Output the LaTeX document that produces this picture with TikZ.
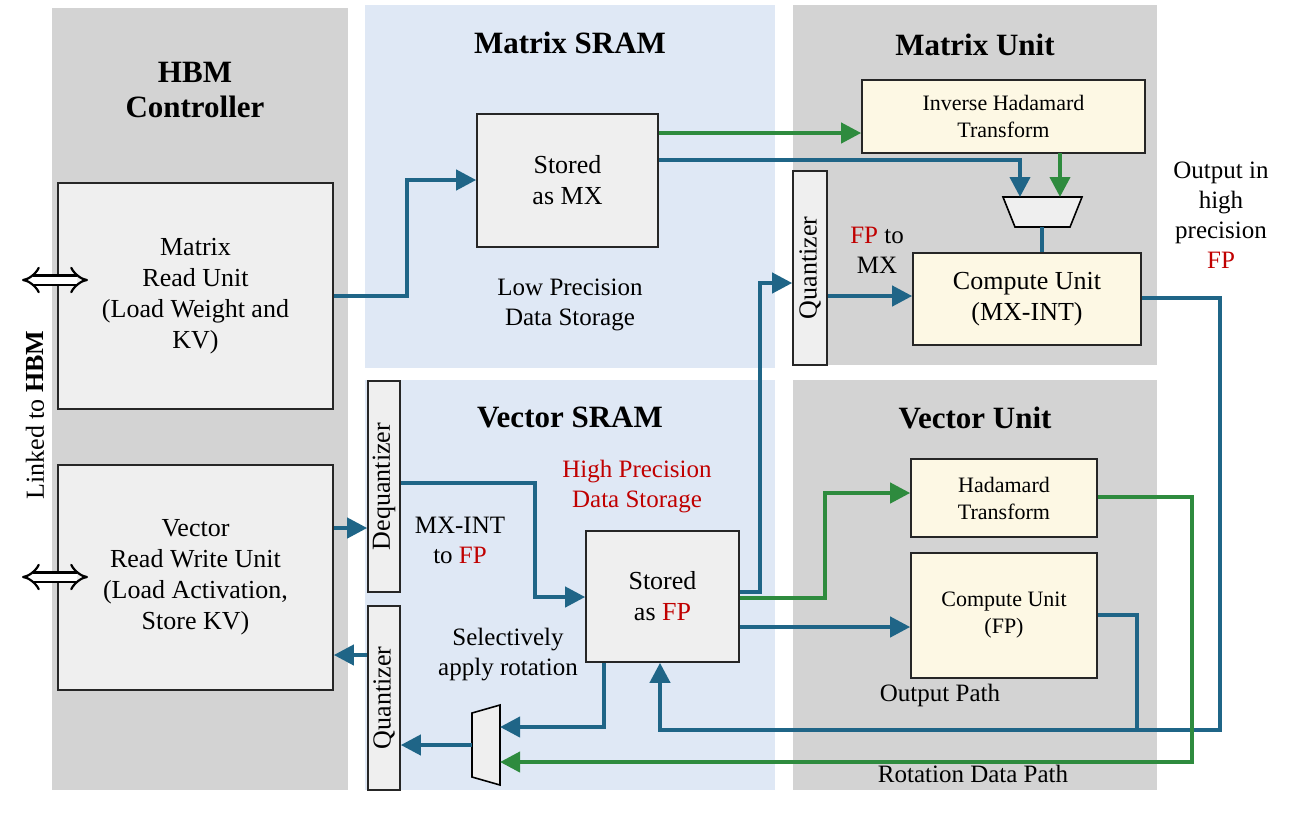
\documentclass[tikz,border=0pt]{standalone}
\usepackage{fontspec}
\setmainfont{Liberation Serif}
\usetikzlibrary{arrows.meta}
\definecolor{gbg}{HTML}{D3D3D3}
\definecolor{bbg}{HTML}{DFE8F5}
\definecolor{boxg}{HTML}{EFEFEF}
\definecolor{cream}{HTML}{FDF8E4}
\definecolor{bl}{HTML}{1F6587}
\definecolor{gr}{HTML}{2E8B3E}
\definecolor{rd}{HTML}{C00000}
\tikzset{
 box/.style={draw=black!85,line width=1.6pt,fill=boxg,align=center,font=\fontsize{26}{31}\selectfont},
 ybox/.style={box,fill=cream},
 title/.style={font=\fontsize{31}{35}\selectfont\bfseries,align=center},
 lbl/.style={font=\fontsize{25}{30}\selectfont,align=center},
 ba/.style={draw=bl,line width=4pt,-{Triangle[length=20pt,width=20pt]}},
 bn/.style={draw=bl,line width=4pt},
 ga/.style={draw=gr,line width=4pt,-{Triangle[length=20pt,width=20pt]}},
}
\begin{document}
\begin{tikzpicture}[x=1pt,y=-1pt]
\useasboundingbox (0,0) rectangle (1315,815);
\fill[gbg] (52,8) rectangle (348,790);
\fill[bbg] (365,5) rectangle (775,368);
\fill[gbg] (793,5) rectangle (1157,365);
\fill[bbg] (365,380) rectangle (775,790);
\fill[gbg] (793,380) rectangle (1157,790);

\node[title] (t1) at (195,90) {HBM\\Controller};
\node[title] (t2) at (570,43) {Matrix SRAM};
\node[title] (t3) at (975,45) {Matrix Unit};
\node[title] (t4) at (570,417) {Vector SRAM};
\node[title] (t5) at (975,418) {Vector Unit};

\node[box,minimum width=275,minimum height=226] (mru) at (195.5,296) {Matrix\\Read Unit\\(Load Weight and\\KV)};
\node[box,minimum width=275,minimum height=225] (vru) at (195.5,577.5) {Vector\\Read Write Unit\\(Load Activation,\\Store KV)};
\node[box,minimum width=181,minimum height=133] (smx) at (567.5,180.5) {Stored\\as MX};
\node[ybox,minimum width=283,minimum height=73,font=\fontsize{22}{27}\selectfont] (iht) at (1003.5,116.5) {Inverse Hadamard\\Transform};
\node[ybox,minimum width=228,minimum height=92] (cmx) at (1027,299) {Compute Unit\\(MX-INT)};
\node[box,minimum width=194,minimum height=34,rotate=90] (qm) at (810,268) {Quantizer};
\node[box,minimum width=211,minimum height=32,rotate=90] (dq) at (384,486.5) {Dequantizer};
\node[box,minimum width=184,minimum height=32,rotate=90] (qv) at (384,698) {Quantizer};
\node[box,minimum width=153,minimum height=131] (sfp) at (662.5,596.5) {Stored\\as \textcolor{rd}{FP}};
\node[ybox,minimum width=186,minimum height=78,font=\fontsize{22}{27}\selectfont] (ht) at (1004,498) {Hadamard\\Transform};
\node[ybox,minimum width=186,minimum height=125,font=\fontsize{22}{27}\selectfont] (cfp) at (1004,615.5) {Compute Unit\\(FP)};

\draw[line width=1.6pt,fill=boxg] (1003,197) -- (1082,197) -- (1070,227) -- (1015,227) -- cycle;
\coordinate (mm) at (1042,227);
\draw[line width=1.6pt,fill=boxg] (472,713) -- (500,705) -- (500,785) -- (472,777) -- cycle;
\coordinate (vm) at (472,745);

\node[lbl] (l1) at (570,305) {Low Precision\\Data Storage};
\node[lbl] (l2) at (877,250) {\textcolor{rd}{FP} to\\MX};
\node[lbl] (l3) at (1221,215) {Output in\\high\\precision\\\textcolor{rd}{FP}};
\node[lbl,text=rd] (l4) at (637,487) {High Precision\\Data Storage};
\node[lbl] (l5) at (460,540) {MX-INT\\to \textcolor{rd}{FP}};
\node[lbl] (l6) at (508,655) {Selectively\\apply rotation};
\node[lbl] (l7) at (940,695) {Output Path};
\node[lbl] (l8) at (973,774) {Rotation Data Path};
\node[lbl,rotate=90,font=\fontsize{26}{30}\selectfont] (l9) at (35,415) {Linked to \textbf{HBM}};

\draw[double,double distance=7pt,line width=2.2pt,{Implies}-{Implies}] (22,280) -- (88,280);
\draw[double,double distance=7pt,line width=2.2pt,{Implies}-{Implies}] (22,577) -- (88,577);

% matrix paths
\draw[ba] (mru.east|-0,296) -- (407,296) -- (407,180) -- (smx.west|-0,180);
\draw[ga] (smx.east|-0,133) -- (iht.west|-0,133);
\draw[ba] (smx.east|-0,160) -- (1020,160) -- (1020,197);
\draw[ga] (1060,153) -- (1060,197);
\draw[bn] (mm) -- (cmx.north-|mm);
\draw[ba] (qm.south|-0,296) -- (cmx.west|-0,296);
% vector paths
\draw[ba] (sfp.east|-0,592) -- (760,592) -- (760,283) -- (qm.north|-0,283);
\draw[ga] (sfp.east|-0,598) -- (825,598) -- (825,493) -- (ht.west|-0,493);
\draw[ba] (sfp.east|-0,627) -- (cfp.west|-0,627);
\draw[ba] (cmx.east|-0,298) -- (1220,298) -- (1220,730) -- (660,730) -- (sfp.south-|660,0);
\draw[bn] (cfp.east|-0,615) -- (1137,615) -- (1137,730);
\draw[ga] (ht.east|-0,497) -- (1192,497) -- (1192,762) -- (500,762);
\draw[ba] (sfp.south-|604,0) -- (604,727) -- (500,727);
\draw[ba] (vm) -- (qv.south|-vm);
\draw[ba] (qv.north|-0,655) -- (vru.east|-0,655);
\draw[ba] (vru.east|-0,528) -- (dq.north|-0,528);
\draw[ba] (dq.south|-0,483) -- (535,483) -- (535,597) -- (sfp.west|-0,597);
\end{tikzpicture}
\end{document}
